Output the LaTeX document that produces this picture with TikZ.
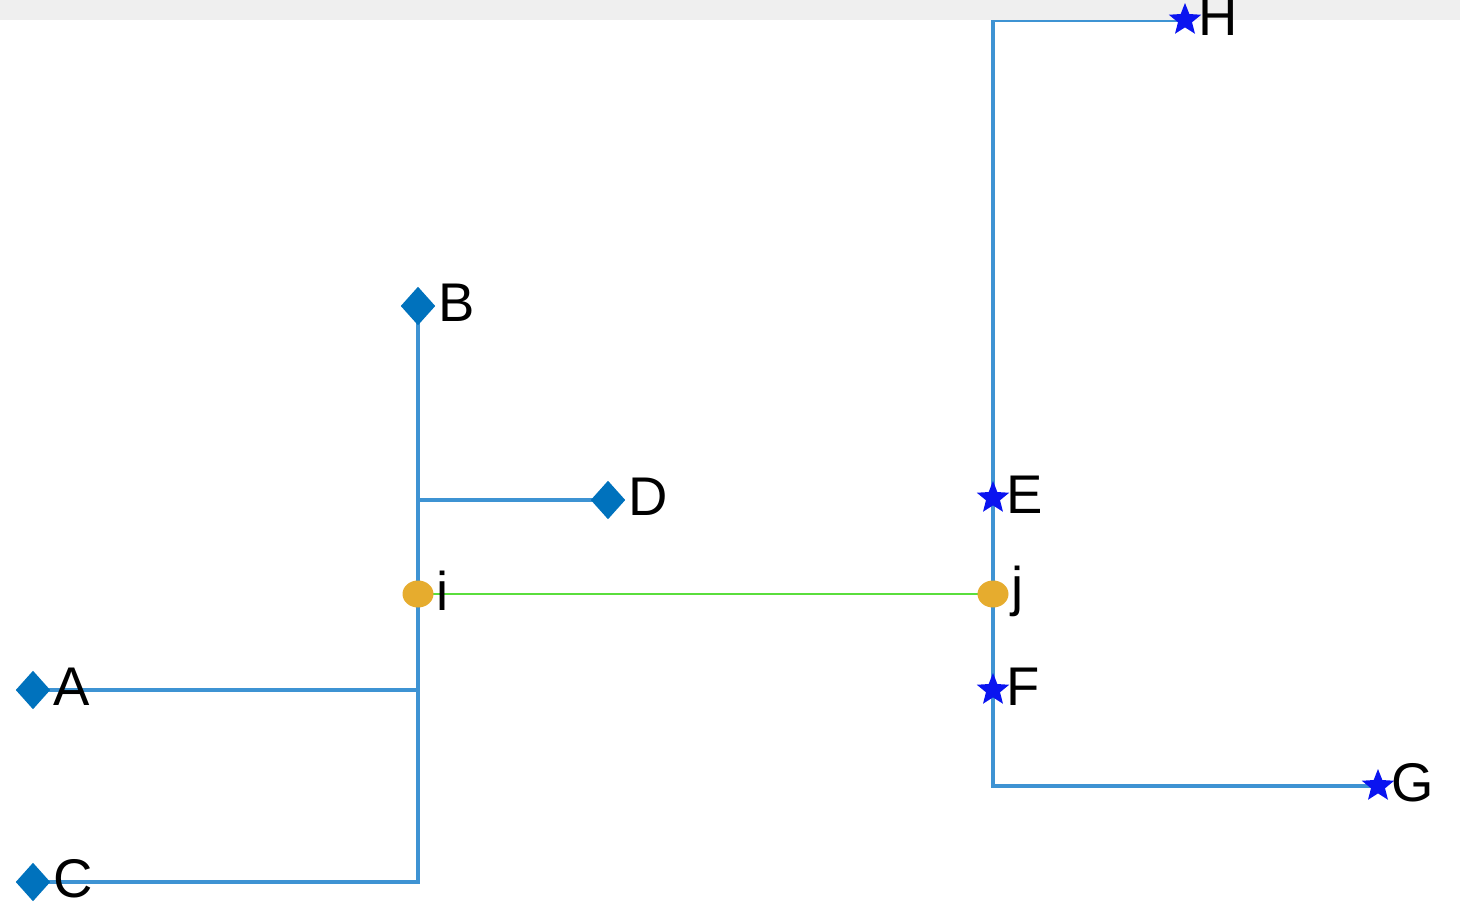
\documentclass[tikz,border=0pt]{standalone}
\usepackage{fontspec}
\setmainfont{Liberation Sans}
\usetikzlibrary{shapes.geometric,backgrounds}
\definecolor{wire}{HTML}{3E93D3}
\definecolor{mark}{HTML}{0072BD}
\definecolor{starb}{HTML}{0A14F0}
\definecolor{knot}{HTML}{E6AC2E}
\definecolor{link}{HTML}{5ADE3C}
\definecolor{band}{HTML}{EFEFEF}

\begin{document}
\begin{tikzpicture}[
  lbl/.style={label={[font=\fontsize{15.5}{17}\selectfont,inner sep=0.5pt,label distance=0pt,yshift=0.03cm]right:#1}},
  diam/.style={diamond,fill=mark,inner sep=0pt,minimum width=0.35cm,minimum height=0.39cm,lbl=#1},
  starm/.style={star,star points=5,star point ratio=2.3,fill=starb,inner sep=0pt,minimum size=0.34cm,lbl=#1},
  knotm/.style={ellipse,fill=knot,inner sep=0pt,minimum width=0.31cm,minimum height=0.27cm,lbl=#1},
  bus/.style={draw=wire,line width=0.9pt},
  match/.style={draw=link,line width=0.75pt}]
\useasboundingbox (0,0) rectangle (14.6,9.08);
\fill[band] (0,8.88) rectangle (14.6,9.08);
% left group
\foreach \n/\x/\y in {A/0.33/2.18,C/0.33/0.26,B/4.18/6.02,D/6.08/4.08}{
  \node[diam=\n] (\n) at (\x,\y) {};
}
% right group
\foreach \n/\x/\y in {E/9.93/4.10,F/9.93/2.18,G/13.78/1.22,H/11.85/8.88}{
  \node[starm=\n] (\n) at (\x,\y) {};
}
\node[knotm=i] (i) at (4.18,3.14) {};
\node[knotm=j] (j) at (9.93,3.14) {};
\begin{pgfonlayer}{background}
  \draw[bus] (C.center) -| (B.center);
  \draw[bus] (A.center) -- (A -| B);
  \draw[bus] (D.center) -- (D -| B);
  \draw[bus] (H.center) -| (j.center) |- (G.center);
  \draw[match] (i.center) -- (j.center);
\end{pgfonlayer}
\end{tikzpicture}
\end{document}
